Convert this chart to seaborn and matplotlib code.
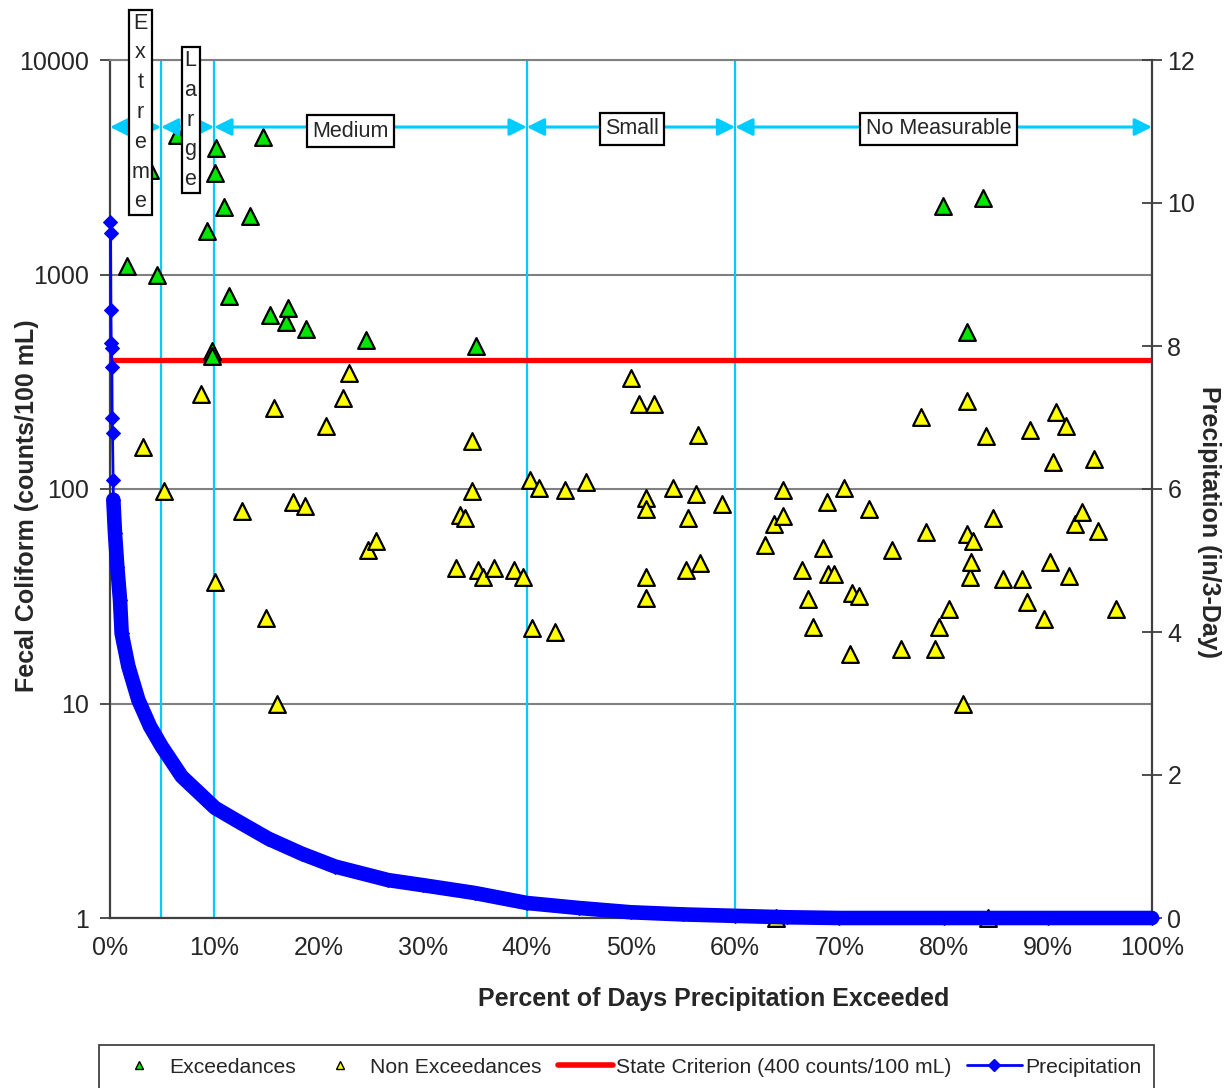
import matplotlib
matplotlib.use("Agg")
import matplotlib.pyplot as plt
import matplotlib.transforms as mtransforms
from matplotlib.lines import Line2D
from matplotlib.ticker import NullLocator
import seaborn as sns

# Fecal coliform samples above the state criterion (percent of days exceeded, counts/100 mL)
exceed_pct = [1.6, 3.8, 4.5, 6.4, 9.3, 9.8, 9.8, 10.1, 10.2, 10.9, 11.4, 13.4, 14.7,
              15.4, 16.9, 17.1, 18.8, 24.6, 35.1, 79.9, 82.2, 83.8]
exceed_fc = [1090, 3070, 1000, 4470, 1590, 440, 415, 2970, 3880, 2070, 790, 1880, 4390,
             650, 600, 700, 560, 495, 465, 2090, 540, 2280]

# Samples at or below the criterion
nonexceed_pct = [3.2, 5.2, 8.7, 10.1, 12.7, 15.0, 15.7, 16.0, 17.6, 18.7, 20.7, 22.4, 22.9,
                 24.8, 25.5, 33.2, 33.6, 34.1, 34.7, 34.7, 35.3, 35.8, 36.9, 38.8, 39.6,
                 40.3, 40.5, 41.2, 42.7, 43.7, 45.7, 50.0, 50.8, 51.4, 51.4, 51.4, 51.4,
                 52.2, 54.0, 55.3, 55.5, 56.2, 56.4, 56.6, 58.7,
                 62.9, 63.7, 63.9, 64.6, 64.6, 66.4, 67.0, 67.5, 68.4, 68.8, 68.9, 69.5,
                 70.4, 71.0, 71.2, 71.9, 72.8, 75.0, 75.9, 77.8, 78.3, 79.2, 79.6, 80.5,
                 81.9, 82.2, 82.2, 82.5, 82.6, 82.8, 84.1, 84.3, 84.7, 85.7, 87.5, 88.0,
                 88.3, 89.6, 90.2, 90.5, 90.8, 91.7, 92.0, 92.6, 93.3, 94.4, 94.8, 96.5]
nonexceed_fc = [157, 98, 276, 37, 79, 25, 238, 10, 87, 83, 197, 267, 346,
                52, 57, 43, 76, 73, 168, 98, 42, 39, 43, 42, 39,
                110, 22.4, 101, 21.6, 99, 108, 328, 248, 91, 81, 39, 31,
                248, 101, 42, 73, 95, 179, 45, 85,
                55, 69, 1, 99, 75, 42, 30.7, 22.8, 53, 87, 40, 40,
                101, 17, 32.7, 31.6, 81, 52, 18, 217, 63, 18, 22.8, 27.5,
                10, 258, 62, 39, 45.5, 57, 177, 1, 73, 38, 38, 29.6,
                188, 24.7, 45.5, 134, 228, 197, 39.5, 69, 78, 138, 64, 27.5]

# Ranked 3-day precipitation (percent of days exceeded, inches)
precip_pct = [0.03, 0.06, 0.09, 0.12, 0.15, 0.18, 0.21, 0.24, 0.30, 0.32, 0.48, 0.70,
              0.96, 1.12, 1.76, 2.72, 3.84, 4.96, 6.88, 10.08, 12.31, 15.19, 18.40, 21.6,
              26.7, 30, 35, 40, 45, 50, 55, 60, 65, 70, 80, 90, 100]
precip_in = [9.74, 9.58, 8.50, 8.04, 7.97, 7.71, 6.99, 6.78, 6.12, 5.85, 5.38, 4.91,
             4.45, 3.98, 3.52, 3.05, 2.68, 2.40, 1.98, 1.54, 1.35, 1.11, 0.90, 0.72,
             0.53, 0.46, 0.35, 0.21, 0.14, 0.08, 0.05, 0.03, 0.01, 0, 0, 0, 0]

criterion = 400
zone_edges = [0, 4.9, 10, 40, 60, 100]
zone_names = ["Extreme", "Large", "Medium", "Small", "No Measurable"]
x_ticks = list(range(0, 101, 10))
x_tick_labels = [f"{v}%" for v in x_ticks]
left_ticks = [1, 10, 100, 1000, 10000]
right_ticks = [0, 2, 4, 6, 8, 10, 12]

GREEN = "#00E600"
YELLOW = "#FFFF00"
RED = "#FF0000"
BLUE = "#0000FF"
CYAN = "#00CCFF"

sns.set_style("white")
plt.rcParams["font.family"] = ["Liberation Sans", "DejaVu Sans"]

W, H = 1227, 1088
fig = plt.figure(figsize=(W / 100, H / 100), dpi=100)
ax = fig.add_axes([110 / W, 1 - 918 / H, 1042 / W, 858 / H])

ax.set_yscale("log")
ax.set_xlim(0, 100)
ax.set_ylim(1, 10000)
ax.set_axisbelow(True)
ax.yaxis.grid(True, which="major", color="#808080", lw=1.5)
ax.xaxis.grid(False)

# flow-zone boundaries
for edge in zone_edges[1:-1]:
    ax.axvline(edge, color=CYAN, lw=1.6, zorder=2)

ax.axhline(criterion, color=RED, lw=3.8, zorder=3)

sns.scatterplot(x=nonexceed_pct, y=nonexceed_fc, ax=ax, marker="^", s=145,
                color=YELLOW, edgecolor="black", linewidth=1.6, zorder=4,
                legend=False, clip_on=False)
sns.scatterplot(x=exceed_pct, y=exceed_fc, ax=ax, marker="^", s=145,
                color=GREEN, edgecolor="black", linewidth=1.6, zorder=5,
                legend=False, clip_on=False)

# zone arrows and labels
trans = mtransforms.blended_transform_factory(ax.transData, ax.transAxes)
arrow_y = 0.9219
for x0, x1 in zip(zone_edges[:-1], zone_edges[1:]):
    ax.annotate("", xy=(x0, arrow_y), xytext=(x1, arrow_y), xycoords=trans,
                textcoords=trans,
                arrowprops=dict(arrowstyle="<|-|>", color=CYAN, lw=2.2,
                                shrinkA=0, shrinkB=0, mutation_scale=26),
                zorder=6, annotation_clip=False)

label_pos = {"Extreme": (2.93, 0.9388), "Large": (7.73, 0.930),
             "Medium": (23.1, 0.917), "Small": (50.1, 0.9196),
             "No Measurable": (79.5, 0.9196)}
for name in zone_names:
    lx, ly = label_pos[name]
    vertical = name in ("Extreme", "Large")
    txt = "\n".join(name) if vertical else name
    ax.text(lx, ly, txt, transform=trans, ha="center", va="center", fontsize=15.5,
            linespacing=1.55 if vertical else 1.2, zorder=7, clip_on=False,
            bbox=dict(boxstyle="square,pad=0.14" if vertical else "square,pad=0.25",
                      fc="white", ec="black", lw=1.6))

ax.set_xticks(x_ticks)
ax.set_xticklabels(x_tick_labels)
ax.set_yticks(left_ticks)
ax.set_yticklabels([str(v) for v in left_ticks])
ax.yaxis.set_minor_locator(NullLocator())
ax.tick_params(axis="x", direction="out", length=8, width=1.3, labelsize=18, pad=5,
               color="#404040")
ax.tick_params(axis="y", direction="out", length=7, width=1.3, labelsize=18, pad=8,
               color="#404040")

for side in ("left", "bottom"):
    ax.spines[side].set_color("#404040")
    ax.spines[side].set_linewidth(1.6)
ax.spines["top"].set_color("#808080")
ax.spines["top"].set_linewidth(1.5)
ax.spines["right"].set_visible(False)

ax.set_xlabel("Percent of Days Precipitation Exceeded", fontsize=18, fontweight="bold")
ax.xaxis.set_label_coords(0.579, -0.081)
ax.set_ylabel("Fecal Coliform (counts/100 mL)", fontsize=18, fontweight="bold")
ax.yaxis.set_label_coords(-0.068, 0.481)

# precipitation on the secondary axis
ax2 = ax.twinx()
ax2.set_ylim(0, 12)
ax2.set_yticks(right_ticks)
ax2.set_yticklabels([str(v) for v in right_ticks])
ax2.tick_params(axis="y", direction="inout", length=14, width=1.3, labelsize=18, pad=4,
                color="#404040")
for side in ("left", "bottom", "top"):
    ax2.spines[side].set_visible(False)
ax2.spines["right"].set_color("#404040")
ax2.spines["right"].set_linewidth(1.6)
ax2.grid(False)

sns.lineplot(x=precip_pct, y=precip_in, ax=ax2, color=BLUE, lw=2, marker="D",
             markersize=7, markeredgecolor=BLUE, sort=False, estimator=None,
             clip_on=False, zorder=5, legend=False)
sns.lineplot(x=precip_pct[9:], y=precip_in[9:], ax=ax2, color=BLUE, lw=10.5,
             sort=False, estimator=None, clip_on=False, zorder=5, legend=False,
             solid_capstyle="round", solid_joinstyle="round")

ax2.set_ylabel("Precipitation (in/3-Day)", fontsize=18, fontweight="bold",
               rotation=270, va="bottom")
ax2.yaxis.set_label_coords(1.043, 0.4615)

handles = [
    Line2D([], [], marker="^", ls="none", color=GREEN, mec="black", ms=6, mew=1),
    Line2D([], [], marker="^", ls="none", color=YELLOW, mec="black", ms=6, mew=1),
    Line2D([], [], color=RED, lw=4),
    Line2D([], [], color=BLUE, lw=2, marker="D", ms=6, mec=BLUE),
]
labels = ["Exceedances", "Non Exceedances", "State Criterion (400 counts/100 mL)",
          "Precipitation"]
leg = fig.legend(handles, labels, loc="upper left",
                 bbox_to_anchor=(99 / W, 1 - 1045 / H), ncol=4, frameon=True,
                 fancybox=False, edgecolor="black", fontsize=15.2, handlelength=2.6,
                 handletextpad=0.15, columnspacing=0.75, borderaxespad=0,
                 borderpad=0.6)
leg.get_frame().set_linewidth(1.2)

fig.savefig("out.png", dpi=100)
